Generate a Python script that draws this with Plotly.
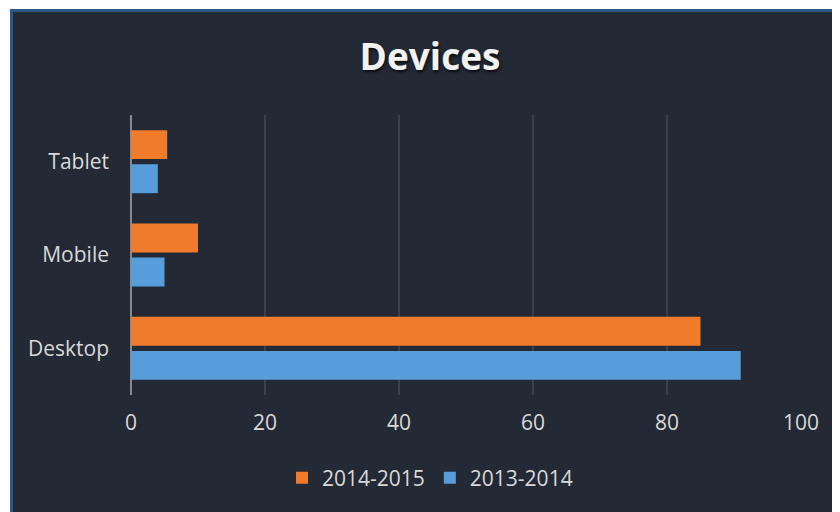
import plotly.graph_objects as go

categories = ["Desktop", "Mobile", "Tablet"]
series_2013_2014 = [91, 5, 4]
series_2014_2015 = [85, 10, 5.4]
x_ticks = [0, 20, 40, 60, 80, 100]

FONT = "Open Sans"
fig = go.Figure()
fig.add_trace(go.Bar(
    y=categories, x=series_2013_2014, name="2013-2014", orientation="h",
    marker=dict(color="#589ddb", line=dict(width=0)),
))
fig.add_trace(go.Bar(
    y=categories, x=series_2014_2015, name="2014-2015", orientation="h",
    marker=dict(color="#f07b2b", line=dict(width=0)),
))

# figure is placed at page offset (8, 8) by the html body margin
OFF = 8
W, H = 832, 504
L, R, T, B = 131 - OFF, W - (801 - OFF), 115 - OFF, H - (395 - OFF)
pw, ph = W - L - R, H - T - B


def px_x(p):
    return (p - OFF - L) / pw


def px_y(p):
    return (H - B - (p - OFF)) / ph


fig.add_shape(type="rect", xref="paper", yref="paper",
              x0=px_x(11.5), x1=px_x(860), y0=px_y(540), y1=px_y(10.5),
              fillcolor="#232935", line=dict(color="#2e5887", width=3),
              layer="below")

fig.update_layout(
    width=W, height=H,
    margin=dict(l=L, r=R, t=T, b=B, pad=0),
    paper_bgcolor="white",
    plot_bgcolor="rgba(0,0,0,0)",
    barmode="group", bargap=0.27, bargroupgap=0.15,
    title=dict(text="<b>Devices</b>", x=(430 - OFF) / W, xanchor="center",
               y=1 - (57 - OFF) / H, yanchor="middle",
               xref="container", yref="container",
               font=dict(family=FONT, size=37, color="#f2f2f2",
                         shadow="1px 2px 3px rgba(0,0,0,0.75)")),
    font=dict(family=FONT, color="#d9d9d9", size=21),
    xaxis=dict(range=[0, 100], tickvals=x_ticks, showgrid=True,
               gridcolor="#3a414c", gridwidth=1.5,
               zeroline=True, zerolinecolor="#858a91", zerolinewidth=2,
               showline=False, ticks="", ticklabelstandoff=13,
               tickfont=dict(size=21, color="#d9d9d9")),
    yaxis=dict(range=[-0.5, 2.5], showgrid=False, zeroline=False, showline=False,
               ticks="", ticklabelstandoff=21,
               tickfont=dict(size=21, color="#d9d9d9")),
    legend=dict(orientation="h", x=px_x(430), xanchor="center",
                y=px_y(478), yanchor="middle", traceorder="reversed",
                font=dict(size=21, color="#d9d9d9"), bgcolor="rgba(0,0,0,0)",
                itemwidth=30),
    showlegend=True,
)

fig.write_html("out.html")
